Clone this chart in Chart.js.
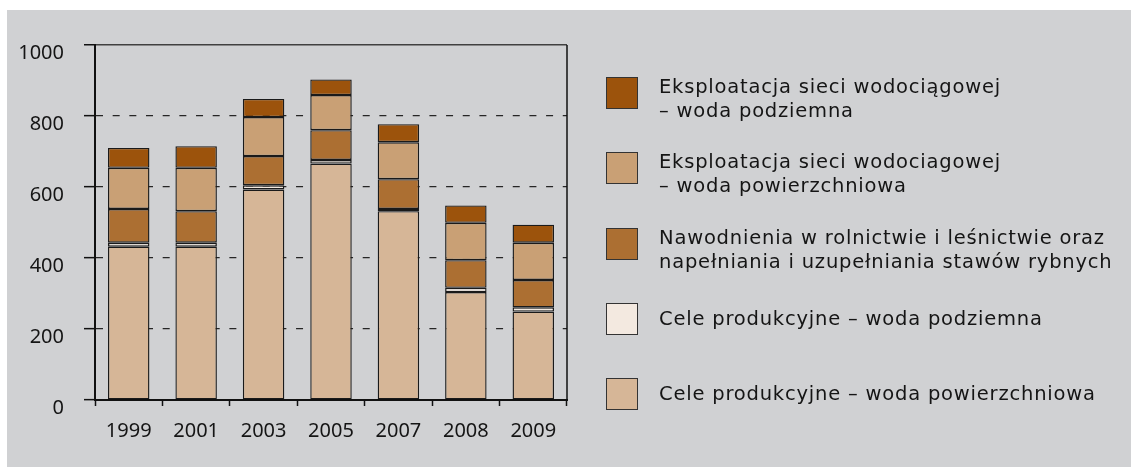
<!DOCTYPE html>
<html>
<head>
    <meta charset="utf-8">
    <title>Pobór wody</title>
    <script src="https://cdn.jsdelivr.net/npm/chart.js"></script>
    <style>
        body { margin: 0; background: #fff; }
        #panel { position: absolute; left: 7px; top: 10px; width: 1124px; height: 457px; background: #d0d1d3; }
        #chart { position: absolute; left: 0; top: 0; }
        #legend { position: absolute; left: 0; top: 0; }
        .item { position: absolute; left: 606px; display: flex; align-items: center; height: 32px; }
        .box { width: 30px; height: 30px; border: 1px solid #333; flex: none; }
        .label { margin-left: 21px; font-family: "DejaVu Sans", sans-serif; font-size: 19.5px;
                 letter-spacing: 0.8px; line-height: 24px; color: #151515; white-space: nowrap; }
        .label.two { position: relative; top: 6px; }
    </style>
</head>
<body>
    <div id="panel"></div>
    <canvas id="chart" width="1131" height="467"></canvas>
    <div id="legend"></div>
    <script>
        // Years on the x axis
        const years = ['1999', '2001', '2003', '2005', '2007', '2008', '2009'];
        // Series, bottom of the stack first
        const prodSurface = [432, 432, 593, 666, 532, 304, 249];
        const prodGround = [11, 11, 12, 10, 6, 12, 12];
        const irrigation = [95, 89, 82, 84, 84, 78, 77];
        const networkSurface = [116, 122, 110, 99, 104, 105, 105];
        const networkGround = [56, 61, 51, 44, 51, 49, 51];
        const seriesLabels = [
            'Cele produkcyjne – woda powierzchniowa',
            'Cele produkcyjne – woda podziemna',
            'Nawodnienia w rolnictwie i leśnictwie oraz\nnapełniania i uzupełniania stawów rybnych',
            'Eksploatacja sieci wodociagowej\n– woda powierzchniowa',
            'Eksploatacja sieci wodociągowej\n– woda podziemna'
        ];
        const seriesColors = ['#d6b697', '#f3e9e0', '#ac6f32', '#c9a075', '#9c530c'];
        const yTicks = [0, 200, 400, 600, 800, 1000];

        const values = [prodSurface, prodGround, irrigation, networkSurface, networkGround];
        const datasets = values.map(function(v, i) {
            return {
                label: seriesLabels[i],
                data: v,
                backgroundColor: seriesColors[i],
                borderColor: '#1a1a1a',
                borderWidth: 1.4,
                borderSkipped: false,
                barPercentage: 0.615,
                categoryPercentage: 1
            };
        });

        // right-hand frame line of the plot
        const frame = {
            id: 'frame',
            afterDraw(chart) {
                const a = chart.chartArea, ctx = chart.ctx;
                ctx.save();
                ctx.strokeStyle = '#111';
                ctx.lineWidth = 1.5;
                ctx.beginPath();
                ctx.moveTo(a.right, a.top);
                ctx.lineTo(a.right, a.bottom);
                ctx.stroke();
                ctx.restore();
            }
        };

        const tickFont = { family: '"Noto Sans", sans-serif', size: 20 };

        new Chart(document.getElementById('chart'), {
            type: 'bar',
            data: { labels: years, datasets: datasets },
            options: {
                responsive: false,
                animation: false,
                layout: { padding: { left: 0, top: 45, right: 564, bottom: 0 } },
                plugins: { legend: { display: false }, tooltip: { enabled: false } },
                scales: {
                    x: {
                        stacked: true,
                        afterFit: function(s) { s.height = 67; },
                        grid: { drawOnChartArea: false, drawTicks: true, tickLength: 6,
                                tickColor: '#111', tickWidth: 1.5, color: '#111' },
                        border: { color: '#111', width: 2 },
                        ticks: { color: '#151515', font: tickFont, padding: 13, maxRotation: 0 }
                    },
                    y: {
                        stacked: true,
                        min: 0,
                        max: 1000,
                        afterFit: function(s) { s.width = 95; },
                        afterBuildTicks: function(s) { s.ticks = yTicks.map(function(v) { return { value: v }; }); },
                        grid: {
                            color: function(c) { return c.tick && c.tick.value === 1000 ? '#404040' : '#262626'; },
                            lineWidth: function(c) { return c.tick && c.tick.value === 1000 ? 1.5 : 1.3; },
                            tickLength: 11, tickColor: '#111', tickWidth: 1.5
                        },
                        border: {
                            color: '#111', width: 2,
                            dash: function(c) { return c.tick && c.tick.value === 1000 ? [] : [7, 9.67]; }
                        },
                        ticks: {
                            color: '#151515', font: tickFont, padding: 20, labelOffset: 8,
                            callback: function(v) { return String(v); }
                        }
                    }
                }
            },
            plugins: [frame]
        });

        // legend, top entry is the top of the stack
        const legend = document.getElementById('legend');
        for (let k = 0; k < seriesLabels.length; k++) {
            const i = seriesLabels.length - 1 - k;
            const item = document.createElement('div');
            item.className = 'item';
            item.style.top = (77 + k * 75.25) + 'px';
            const box = document.createElement('div');
            box.className = 'box';
            box.style.background = seriesColors[i];
            const label = document.createElement('div');
            const lines = seriesLabels[i].split('\n');
            label.className = lines.length > 1 ? 'label two' : 'label';
            label.innerHTML = lines.join('<br>');
            item.appendChild(box);
            item.appendChild(label);
            legend.appendChild(item);
        }
    </script>
</body>
</html>
